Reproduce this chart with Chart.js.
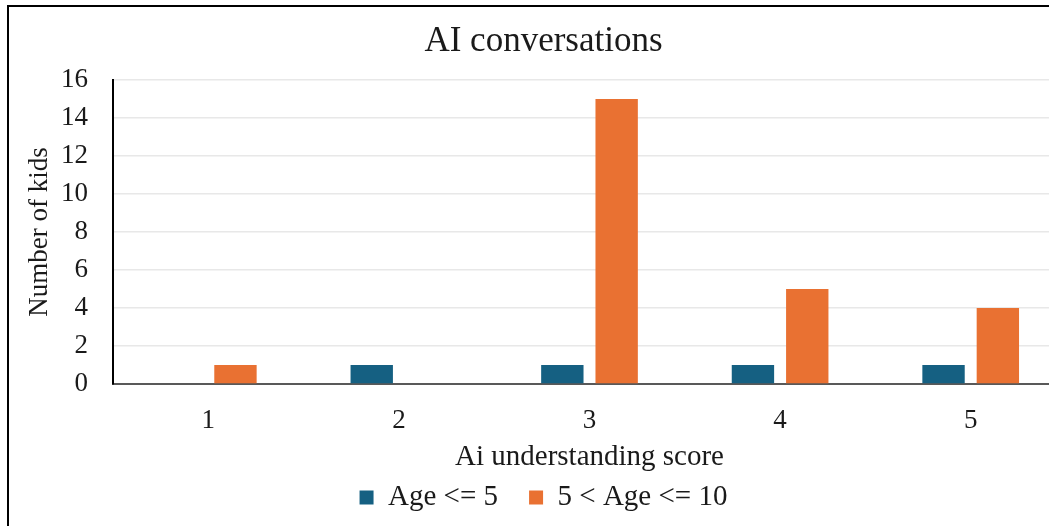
<!DOCTYPE html>
<html>
<head>
<meta charset="utf-8">
<script src="https://cdn.jsdelivr.net/npm/chart.js@4.4.1/dist/chart.umd.min.js"></script>
<style>
    body { margin: 0; overflow: hidden; background: #ffffff; }
    #frame {
        position: absolute; left: 7px; top: 5px;
        border-left: 2px solid #000; border-top: 2px solid #000;
        width: 1065px; height: 530px;
    }
</style>
</head>
<body>
<div id="frame">
    <canvas id="BarChart" width="1057" height="519"></canvas>
</div>
<script>
const scores = ["1", "2", "3", "4", "5"];
const youngKids = [0, 1, 1, 1, 1];
const olderKids = [1, 0, 15, 5, 4];
const seriesNames = ["Age <= 5", "5 < Age <= 10"];

const blue = "#156082", orange = "#E97132";
const serif = "'Liberation Serif', 'Times New Roman', serif";
const textColor = "#1a1a1a";

var canvasElement = document.getElementById("BarChart");
var config = {
    type: "bar",
    data: {
        labels: scores,
        datasets: [{
            label: seriesNames[0],
            data: youngKids,
            backgroundColor: blue,
            categoryPercentage: 0.57,
            barPercentage: 0.78
        }, {
            label: seriesNames[1],
            data: olderKids,
            backgroundColor: orange,
            categoryPercentage: 0.57,
            barPercentage: 0.78
        }]
    },
    options: {
        responsive: false,
        animation: false,
        layout: {
            padding: { left: 12, right: 0, top: 0, bottom: 4 }
        },
        plugins: {
            title: {
                display: true,
                text: "AI conversations",
                color: textColor,
                font: { family: serif, size: 35, weight: "normal" },
                padding: { top: 14, bottom: 17 }
            },
            legend: {
                position: "bottom",
                labels: {
                    color: textColor,
                    font: { family: serif, size: 29 },
                    boxWidth: 14,
                    boxHeight: 14,
                    padding: 31
                }
            },
            tooltip: { enabled: false }
        },
        scales: {
            x: {
                afterFit: function(scale) { scale.height = 68; },
                grid: { display: false, drawTicks: false },
                border: { display: true, color: "#595959", width: 2 },
                ticks: {
                    color: textColor,
                    font: { family: serif, size: 27 },
                    padding: 21
                },
                title: {
                    display: true,
                    text: "Ai understanding score",
                    color: textColor,
                    font: { family: serif, size: 29 },
                    padding: { top: 0, bottom: -23 }
                }
            },
            y: {
                afterFit: function(scale) { scale.width = 92; },
                min: 0,
                max: 16,
                ticks: {
                    stepSize: 2,
                    autoSkip: false,
                    color: textColor,
                    font: { family: serif, size: 27 },
                    padding: 25
                },
                grid: { color: "#e8e8e8", lineWidth: 1.5, drawTicks: false },
                border: { display: true, color: "#000000", width: 2 },
                title: {
                    display: true,
                    text: "Number of kids",
                    color: textColor,
                    font: { family: serif, size: 27 },
                    padding: { top: 3, bottom: 6 }
                }
            }
        }
    }
};
var barChart = new Chart(canvasElement, config);
</script>
</body>
</html>
